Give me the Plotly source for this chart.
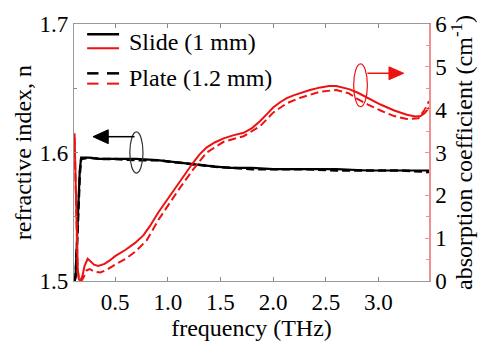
import plotly.graph_objects as go

# Refractive index n (left axis)
freq_n = [0.115, 0.125, 0.14, 0.155, 0.165, 0.178, 0.25, 0.35, 0.5, 0.7,
          0.9, 1.0, 1.1, 1.2, 1.3, 1.45, 1.6, 1.8, 2.0, 2.3,
          2.6, 2.9, 3.2, 3.48]
n_slide = [1.500, 1.505, 1.535, 1.570, 1.586, 1.596, 1.596, 1.595, 1.595, 1.595,
           1.594, 1.593, 1.592, 1.591, 1.590, 1.589, 1.588, 1.588, 1.587, 1.587,
           1.587, 1.586, 1.586, 1.586]
n_plate = [1.500, 1.503, 1.530, 1.566, 1.583, 1.595, 1.596, 1.595, 1.595, 1.594,
           1.594, 1.593, 1.592, 1.591, 1.590, 1.589, 1.588, 1.587, 1.587, 1.587,
           1.586, 1.586, 1.586, 1.585]

# Absorption coefficient (right axis), slide sample
freq_a_slide = [0.115, 0.125, 0.135, 0.145, 0.155, 0.17, 0.19, 0.21, 0.24, 0.27,
                0.30, 0.34, 0.40, 0.45, 0.50, 0.60, 0.69, 0.77, 0.83, 0.91,
                1.00, 1.10, 1.24, 1.30, 1.37, 1.45, 1.53, 1.62, 1.72, 1.80,
                1.88, 1.95, 2.00, 2.07, 2.13, 2.20, 2.26, 2.35, 2.45, 2.53,
                2.60, 2.66, 2.72, 2.80, 2.90, 3.02, 3.15, 3.27, 3.35, 3.40,
                3.44, 3.48]
alpha_slide = [3.45, 2.2, 1.0, 0.3, 0.05, 0.0, 0.12, 0.35, 0.52, 0.45,
               0.38, 0.35, 0.40, 0.48, 0.58, 0.73, 0.89, 1.07, 1.28, 1.60,
               1.92, 2.28, 2.76, 2.95, 3.12, 3.24, 3.33, 3.40, 3.46, 3.57,
               3.74, 3.92, 4.05, 4.18, 4.27, 4.34, 4.39, 4.46, 4.52, 4.55,
               4.55, 4.52, 4.48, 4.40, 4.27, 4.12, 3.98, 3.88, 3.84, 3.85,
               3.92, 4.05]

# Absorption coefficient (right axis), plate sample
freq_a_plate = [0.115, 0.125, 0.135, 0.145, 0.16, 0.18, 0.20, 0.23, 0.26, 0.30,
                0.36, 0.42, 0.50, 0.60, 0.69, 0.80, 0.91, 1.00, 1.10, 1.24,
                1.37, 1.53, 1.72, 1.88, 2.00, 2.13, 2.26, 2.45, 2.60, 2.72,
                2.80, 2.90, 3.02, 3.15, 3.27, 3.38, 3.44, 3.48]
alpha_plate = [3.35, 2.1, 0.9, 0.25, 0.02, 0.0, 0.08, 0.25, 0.28, 0.22,
               0.20, 0.26, 0.38, 0.52, 0.68, 0.95, 1.42, 1.75, 2.12, 2.60,
               3.00, 3.25, 3.38, 3.62, 3.93, 4.15, 4.28, 4.42, 4.46, 4.38,
               4.25, 4.12, 3.98, 3.85, 3.78, 3.80, 4.00, 4.20]

x_ticks = [0.5, 1.0, 1.5, 2.0, 2.5, 3.0]
legend_labels = ["Slide (1 mm)", "Plate (1.2 mm)"]

BLACK = "#000000"
RED = "#ee1111"
FONT = "Liberation Serif"

fig = go.Figure()
fig.add_trace(go.Scatter(x=freq_n, y=n_plate, mode="lines",
                         line=dict(color=BLACK, width=2.5, dash="8px,4px")))
fig.add_trace(go.Scatter(x=freq_n, y=n_slide, mode="lines",
                         line=dict(color=BLACK, width=2.2)))
fig.add_trace(go.Scatter(x=freq_a_plate, y=alpha_plate, mode="lines", yaxis="y2",
                         line=dict(color=RED, width=2, dash="8px,4px")))
fig.add_trace(go.Scatter(x=freq_a_slide, y=alpha_slide, mode="lines", yaxis="y2",
                         line=dict(color=RED, width=2)))

tick_font = dict(family=FONT, size=23, color="black")
title_font = dict(family=FONT, size=24, color="black")

fig.update_layout(
    width=482, height=346,
    font=dict(family=FONT, size=23, color="black"),
    margin=dict(l=74, r=53, t=14, b=56),
    paper_bgcolor="white", plot_bgcolor="white",
    showlegend=False,
    xaxis=dict(range=[0.11, 3.48], tickvals=x_ticks, tickformat=".1f",
               ticks="inside", ticklen=4, tickcolor="#888",
               showline=True, linecolor="#999", linewidth=1.2, mirror="ticks",
               showgrid=False, zeroline=False, tickfont=tick_font,
               title=dict(text="frequency (THz)", font=title_font, standoff=2)),
    yaxis=dict(range=[1.5, 1.7], dtick=0.1, tickformat=".1f",
               ticks="inside", ticklen=4, tickcolor="#888",
               minor=dict(dtick=0.05, ticks="inside", ticklen=3, tickcolor="#888"),
               showline=True, linecolor="#999", linewidth=1.2,
               showgrid=False, zeroline=False, tickfont=tick_font,
               title=dict(text="refractive index, n", font=title_font, standoff=1)),
    yaxis2=dict(range=[0, 6], dtick=1, overlaying="y", side="right",
                ticks="inside", ticklen=4, tickcolor="#f09090",
                minor=dict(dtick=0.5, ticks="inside", ticklen=3, tickcolor="#f09090"),
                showline=True, linecolor="#f09090", linewidth=1.5,
                showgrid=False, zeroline=False, tickfont=tick_font,
                title=dict(text="absorption coefficient (cm<sup>-1</sup>)",
                           font=title_font, standoff=6)),
)

# Ellipse markers tying each curve group to its axis
fig.add_shape(type="circle", xref="x", yref="y", x0=0.64, x1=0.765,
              y0=1.584, y1=1.616, line=dict(color="#333", width=1.2))
fig.add_shape(type="circle", xref="x", yref="y2", x0=2.765, x1=2.895,
              y0=4.07, y1=5.07, line=dict(color=RED, width=1.2))

# Arrows: shaft line plus filled triangular head
fig.add_shape(type="line", xref="x", yref="y", x0=0.685, x1=0.42,
              y0=1.6123, y1=1.6123, line=dict(color=BLACK, width=1.5))
fig.add_shape(type="path", xref="x", yref="y",
              path="M 0.29,1.6123 L 0.435,1.6177 L 0.435,1.6069 Z",
              fillcolor=BLACK, line=dict(color=BLACK, width=1))
fig.add_shape(type="line", xref="x", yref="y2", x0=2.895, x1=3.11,
              y0=4.85, y1=4.85, line=dict(color=RED, width=1.5))
fig.add_shape(type="path", xref="x", yref="y2",
              path="M 3.24,4.85 L 3.10,5.0 L 3.10,4.70 Z",
              fillcolor=RED, line=dict(color=RED, width=1))

# Legend: black (n) and red (alpha) sample lines stacked for each entry
legend_rows = [
    dict(label=legend_labels[0], yk=0.960, yr=0.906, yt=0.931, dash=None),
    dict(label=legend_labels[1], yk=0.808, yr=0.768, yt=0.790, dash="dash"),
]
for row in legend_rows:
    for yy, col in ((row["yk"], BLACK), (row["yr"], RED)):
        if row["dash"] is None:
            segs = [(0.037, 0.127)]
        else:
            segs = [(0.037, 0.069), (0.093, 0.127)]
        for a, b in segs:
            fig.add_shape(type="line", xref="paper", yref="paper",
                          x0=a, x1=b, y0=yy, y1=yy,
                          line=dict(color=col, width=2.5 if col == BLACK else 2))
    fig.add_annotation(x=0.149, y=row["yt"], xref="paper", yref="paper",
                       text=row["label"], showarrow=False, xanchor="left",
                       yanchor="middle", font=title_font)

fig.write_html("out.html")
